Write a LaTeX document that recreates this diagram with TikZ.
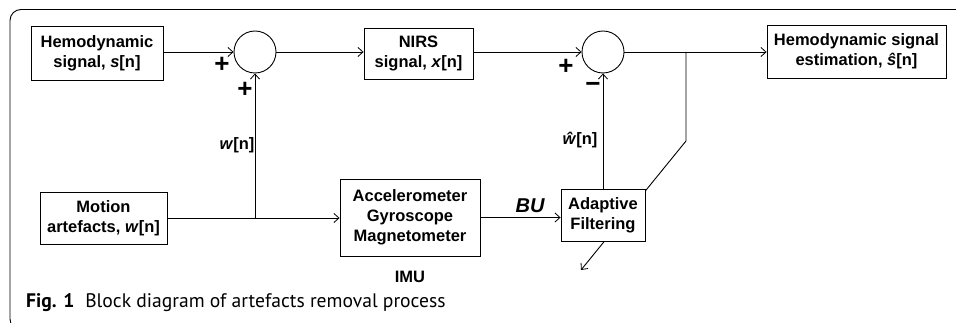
\documentclass[tikz,border=0pt]{standalone}
\usepackage{fontspec}
\setmainfont{Liberation Sans}
\newfontfamily\capfont{PT Sans}
\usetikzlibrary{arrows.meta}
\begin{document}
\begin{tikzpicture}[x=1pt,y=-1pt,
  every node/.style={font=\bfseries\fontsize{16.5}{20}\selectfont},
  blk/.style={draw, line width=0.9pt, fill=white, align=center, inner sep=0pt},
  sumc/.style={draw, circle, line width=0.9pt, minimum size=42pt, inner sep=0pt},
  sig/.style={line width=0.9pt, -{Straight Barb[length=5pt,width=9pt,line width=0.8pt]}},
  wire/.style={line width=0.9pt},
  sgn/.style={font=\bfseries\fontsize{26}{26}\selectfont, inner sep=0pt},
  lbl/.style={inner sep=0pt}]
\useasboundingbox (0,0) rectangle (956,323);
\begin{scope}
\clip (0,0) rectangle (956,323);
\draw[line width=0.9pt, rounded corners=11pt] (960,9.5) -- (10,9.5) -- (10,330) -- (60,330);
\end{scope}
% diagonal adaptation arrow (drawn beneath the adaptive filter box)
\coordinate (b1) at (686,52);
\coordinate (b2) at (686,141);
\coordinate (tip) at (581,270);
\draw[sig] (b1) -- (b2) -- (tip);
% blocks
\node[blk, minimum width=132pt, minimum height=54pt] (hemo) at (97,53) {Hemodynamic\\signal, \textit{s}[n]};
\node[sumc] (sum1) at (255,52) {};
\node[blk, minimum width=109pt, minimum height=51pt] (nirs) at (418.5,53.5) {NIRS\\signal, \textit{x}[n]};
\node[sumc] (sum2) at (603,52) {};
\node[blk, minimum width=179pt, minimum height=53pt] (est) at (856.5,51.5) {Hemodynamic signal\\estimation, \textit{ŝ}[n]};
\node[blk, minimum width=127pt, minimum height=52pt] (motion) at (103.5,218) {Motion\\artefacts, \textit{w}[n]};
\node[blk, minimum width=140pt, minimum height=77pt] (accel) at (410,217.5) {Accelerometer\\Gyroscope\\Magnetometer};
\node[blk, minimum width=84pt, minimum height=52pt] (adapt) at (603,215) {Adaptive\\Filtering};
% connectors
\draw[sig] (hemo.east |- sum1.west) -- (sum1.west);
\draw[sig] (sum1.east) -- (nirs.west |- sum1.east);
\draw[sig] (nirs.east |- sum2.west) -- (sum2.west);
\draw[sig] (sum2.east) -- (est.west |- sum2.east);
\coordinate (j1) at (sum1 |- motion.east);
\draw[sig] (motion.east) -- (accel.west |- motion.east);
\draw[sig] (j1) -- (sum1.south);
\draw[sig] (accel.east) -- (adapt.west |- accel.east);
\draw[sig] (adapt.north) -- (sum2.south);
% labels
\node[sgn] (p1) at (222,65) {+};
\node[sgn] (p2) at (245,90) {+};
\node[lbl] (wl) at (237,145) {\textit{w}[n]};
\node[sgn] (p3) at (566,67) {+};
\node[sgn] (m1) at (593,87) {−};
\node[lbl] (wh) at (580,140) {\textit{ŵ}[n]};
\node[lbl, font=\bfseries\itshape\fontsize{20}{20}\selectfont] (bu) at (530,206) {BU};
\node[lbl] (imu) at (410,277) {IMU};
\node[lbl, anchor=base west, font=\capfont\fontsize{19.6}{22}\selectfont] (cap) at (26,307) {\textbf{Fig. 1}\hspace{0.55em}Block diagram of artefacts removal process};
\end{tikzpicture}
\end{document}
